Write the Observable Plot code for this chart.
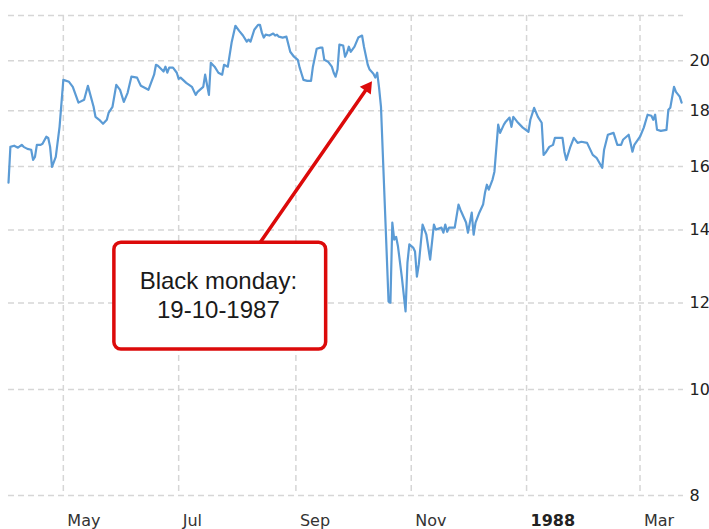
<!DOCTYPE html>
<html>
<head>
<meta charset="utf-8">
<script src="https://cdn.jsdelivr.net/npm/d3@7"></script>
<script src="https://cdn.jsdelivr.net/npm/@observablehq/plot@0.6"></script>
<style>
  html, body { margin: 0; padding: 0; background: #fff; }
  #chart { width: 709px; height: 529px; }
</style>
</head>
<body>
<div id="chart"></div>
<script>
// ---- data ----
const dates = [
  "1987-04-02","1987-04-03","1987-04-05","1987-04-07","1987-04-09","1987-04-10","1987-04-12","1987-04-14","1987-04-15","1987-04-16",
  "1987-04-17","1987-04-19","1987-04-20","1987-04-22","1987-04-23","1987-04-24","1987-04-25","1987-04-26","1987-04-27","1987-04-29",
  "1987-05-01","1987-05-04","1987-05-06","1987-05-09","1987-05-12","1987-05-14","1987-05-15","1987-05-17","1987-05-18","1987-05-20",
  "1987-05-22","1987-05-24","1987-05-25","1987-05-27","1987-05-29","1987-05-31",
  "1987-06-02","1987-06-04","1987-06-06","1987-06-09","1987-06-10","1987-06-11","1987-06-13","1987-06-15","1987-06-18","1987-06-19",
  "1987-06-20","1987-06-22","1987-06-23","1987-06-24","1987-06-25","1987-06-26","1987-06-28","1987-06-30",
  "1987-07-01","1987-07-02","1987-07-05","1987-07-08","1987-07-10","1987-07-11","1987-07-14","1987-07-15","1987-07-17","1987-07-18",
  "1987-07-20","1987-07-22","1987-07-24","1987-07-25","1987-07-27","1987-07-29","1987-07-31",
  "1987-08-02","1987-08-04","1987-08-06","1987-08-07","1987-08-08","1987-08-10","1987-08-12","1987-08-13","1987-08-14","1987-08-15",
  "1987-08-16","1987-08-18","1987-08-20","1987-08-21","1987-08-22","1987-08-23","1987-08-25","1987-08-27","1987-08-29","1987-08-31",
  "1987-09-02","1987-09-03","1987-09-04","1987-09-05","1987-09-07","1987-09-09","1987-09-10","1987-09-12","1987-09-14","1987-09-15",
  "1987-09-16","1987-09-18","1987-09-20","1987-09-21","1987-09-22","1987-09-23","1987-09-24","1987-09-26","1987-09-27","1987-09-28",
  "1987-09-29","1987-09-30",
  "1987-10-02","1987-10-04","1987-10-06","1987-10-07","1987-10-09","1987-10-10","1987-10-12","1987-10-13","1987-10-14","1987-10-15",
  "1987-10-16","1987-10-19","1987-10-20","1987-10-21","1987-10-22","1987-10-23","1987-10-24","1987-10-25","1987-10-27","1987-10-29",
  "1987-10-30","1987-10-31",
  "1987-11-02","1987-11-03","1987-11-04","1987-11-05","1987-11-07","1987-11-09","1987-11-11","1987-11-13","1987-11-14","1987-11-17",
  "1987-11-18","1987-11-19","1987-11-20","1987-11-21","1987-11-24","1987-11-26","1987-11-27","1987-11-30",
  "1987-12-01","1987-12-03","1987-12-04","1987-12-05","1987-12-07","1987-12-09","1987-12-10","1987-12-11","1987-12-12","1987-12-14",
  "1987-12-15","1987-12-17","1987-12-18","1987-12-20","1987-12-21","1987-12-23","1987-12-24","1987-12-25","1987-12-27","1987-12-30",
  "1988-01-02","1988-01-03","1988-01-05","1988-01-07","1988-01-09","1988-01-10","1988-01-11","1988-01-13","1988-01-15","1988-01-16",
  "1988-01-18","1988-01-20","1988-01-21","1988-01-22","1988-01-24","1988-01-26","1988-01-28","1988-01-30",
  "1988-02-02","1988-02-05","1988-02-07","1988-02-10","1988-02-11","1988-02-13","1988-02-16","1988-02-18","1988-02-20","1988-02-21",
  "1988-02-24","1988-02-25","1988-02-26","1988-02-27",
  "1988-03-01","1988-03-03","1988-03-05","1988-03-07","1988-03-08","1988-03-09","1988-03-10","1988-03-12","1988-03-15","1988-03-16",
  "1988-03-17","1988-03-19","1988-03-20","1988-03-22","1988-03-23"
];
const values = [
  15.47,16.68,16.72,16.65,16.75,16.68,16.61,16.58,16.23,16.33,
  16.75,16.75,16.79,17.04,17.00,16.68,15.99,16.16,16.33,17.40,
  19.21,19.13,18.93,18.31,18.42,18.97,18.69,18.15,17.77,17.66,
  17.51,17.66,17.93,18.15,19.01,18.81,
  18.34,18.69,19.34,19.30,19.13,18.97,18.89,18.81,19.42,19.83,
  19.79,19.63,19.55,19.75,19.50,19.71,19.71,19.50,
  19.25,19.30,19.09,18.93,18.61,18.73,18.93,19.42,18.61,19.91,
  19.75,19.50,19.42,19.83,19.75,20.78,21.53,
  21.30,21.09,20.82,20.91,20.82,21.35,21.57,21.57,21.22,21.00,
  21.13,21.09,21.18,21.09,21.13,21.04,21.00,21.04,20.38,20.17,
  20.04,19.71,19.46,19.21,19.17,19.17,19.75,20.51,20.56,20.56,
  20.04,19.96,19.75,19.50,19.34,19.63,20.69,20.65,20.17,20.34,
  20.60,20.38,
  20.60,21.00,21.09,20.60,19.83,19.63,19.46,19.30,19.50,18.89,
  18.15,13.35,12.04,12.01,14.22,13.72,13.80,13.52,12.69,11.79,
  13.07,13.58,
  13.49,13.38,12.69,13.02,14.16,13.86,13.15,14.16,14.01,14.07,
  13.92,14.16,13.95,14.07,14.07,14.77,14.61,14.22,
  13.92,14.52,13.86,14.22,14.52,14.77,15.14,15.40,15.24,15.57,
  15.83,17.48,17.18,17.48,17.59,17.74,17.40,17.77,17.59,17.37,
  17.22,17.66,18.11,17.77,17.55,16.40,16.47,16.68,16.75,17.00,
  17.00,17.00,16.51,16.23,16.65,17.00,16.82,16.86,
  16.82,16.40,16.30,15.96,16.58,17.11,17.18,16.75,16.75,16.93,
  17.11,16.82,16.51,16.75,
  17.04,17.37,17.85,17.81,17.66,17.85,17.29,17.25,17.29,18.04,
  18.11,18.93,18.73,18.54,18.31
];
const xDomain = ["1987-04-02", "1988-03-24"];
const yDomain = [8, 22];
const tickDates = ["1987-05-01","1987-07-01","1987-09-01","1987-11-01","1988-01-01","1988-03-01"];
const tickLabels = ["May","Jul","Sep","Nov","1988","Mar"];
const boldLabels = ["1988"];
const yTicks = [8, 10, 12, 14, 16, 18, 20];
const yGrid = [8, 10, 12, 14, 16, 18, 20, 22];
// annotation (data coordinates)
const calloutLines = ["Black monday:", "19-10-1987"];
const calloutBox = [{x1: "1987-05-28", x2: "1987-09-17", y1: 10.88, y2: 13.63}];
const calloutTextPos = [{x: "1987-07-22", y: 12.22}];
const calloutArrow = [{x1: "1987-08-13", y1: 13.63, x2: "1987-10-11", y2: 19.13}];

// ---- build ----
const D = s => new Date(s + "T00:00:00Z");
const series = dates.map((d, i) => ({date: D(d), value: values[i]}));
const ticks = tickDates.map((d, i) => ({date: D(d), label: tickLabels[i]}));
const labelOf = new Map(ticks.map(t => [+t.date, t.label]));
const normalTicks = ticks.filter(t => !boldLabels.includes(t.label)).map(t => t.date);
const boldTicks = ticks.filter(t => boldLabels.includes(t.label)).map(t => t.date);
const box = calloutBox.map(b => ({...b, x1: D(b.x1), x2: D(b.x2)}));
const textPos = calloutTextPos.map(t => ({x: D(t.x), y: t.y, text: calloutLines.join("\n")}));
const arrow = calloutArrow.map(a => ({...a, x1: D(a.x1), x2: D(a.x2)}));

const gridStyle = {stroke: "#d6d6d6", strokeWidth: 1.5, strokeDasharray: "6,4"};
const red = "#dc0a0a";

const chart = Plot.plot({
  width: 709,
  height: 529,
  marginLeft: 8,
  marginRight: 26,
  marginTop: 15,
  marginBottom: 34,
  style: {fontFamily: "'DejaVu Sans', Verdana, sans-serif", background: "#fff", overflow: "visible"},
  x: {type: "utc", domain: xDomain.map(D)},
  y: {type: "log", domain: yDomain},
  marks: [
    Plot.ruleY(yGrid, gridStyle),
    Plot.ruleX(ticks.map(t => t.date), {...gridStyle, y1: yDomain[1], y2: yDomain[0]}),
    Plot.line(series, {x: "date", y: "value", stroke: "#5b9bd5", strokeWidth: 2.2, strokeLinejoin: "round"}),
    // arrow shaft (stops short of the tip) and filled triangular head
    Plot.arrow(arrow, {x1: "x1", y1: "y1", x2: "x2", y2: "y2", stroke: red, strokeWidth: 3.5, headLength: 0, insetEnd: 9}),
    Plot.dot(arrow, {x: "x2", y: "y2", symbol: "triangle", r: 5, fill: red, stroke: "none", rotate: 35, dx: -4, dy: 5.7}),
    Plot.rect(box, {x1: "x1", x2: "x2", y1: "y1", y2: "y2", fill: "#fff", stroke: red, strokeWidth: 3.5, rx: 7}),
    Plot.text(textPos, {x: "x", y: "y", text: "text", fontSize: 24, lineHeight: 1.17, fill: "#1a1a1a",
      fontFamily: "'Liberation Sans', Arial, sans-serif", textAnchor: "middle", lineAnchor: "middle"}),
    Plot.axisX(normalTicks, {anchor: "bottom", tickSize: 0, tickPadding: 19, textAnchor: "start", dx: 4,
      fontSize: 16, fill: "#333", tickFormat: d => labelOf.get(+d), label: null}),
    Plot.axisX(boldTicks, {anchor: "bottom", tickSize: 0, tickPadding: 19, textAnchor: "start", dx: 4,
      fontSize: 16, fontWeight: "bold", fill: "#222", tickFormat: d => labelOf.get(+d), label: null}),
    Plot.axisY(yTicks, {anchor: "right", tickSize: 0, tickPadding: 6, fontSize: 16, fill: "#222",
      tickFormat: d => String(d), label: null})
  ]
});
document.getElementById("chart").appendChild(chart);
</script>
</body>
</html>
